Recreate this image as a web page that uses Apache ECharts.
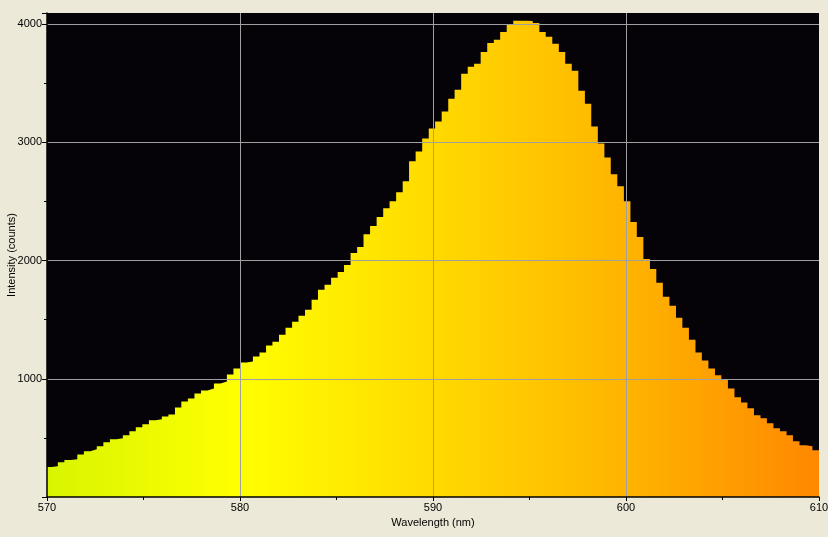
<!DOCTYPE html>
<html>
<head>
<meta charset="utf-8">
<script src="https://cdn.jsdelivr.net/npm/echarts@6/dist/echarts.min.js"></script>
<style>
html,body{margin:0;padding:0;background:#ECE9D8;}
#chart{width:828px;height:537px;}
</style>
</head>
<body>
<div id="chart"></div>
<script>
// Bin edges (nm) of the spectrometer pixels; 120 edges for 119 bins
var binEdges = [
569.89,570.22,570.56,570.90,571.23,571.57,571.91,572.25,572.58,572.92,
573.26,573.59,573.93,574.27,574.60,574.94,575.28,575.62,575.95,576.29,
576.63,576.96,577.30,577.64,577.98,578.31,578.65,578.99,579.32,579.66,
580.00,580.34,580.67,581.01,581.35,581.68,582.02,582.36,582.70,583.03,
583.37,583.71,584.04,584.38,584.72,585.06,585.39,585.73,586.07,586.40,
586.74,587.08,587.42,587.75,588.09,588.43,588.76,589.10,589.44,589.78,
590.11,590.45,590.79,591.12,591.46,591.80,592.13,592.47,592.81,593.15,
593.48,593.82,594.16,594.49,594.83,595.17,595.51,595.84,596.18,596.52,
596.85,597.19,597.53,597.87,598.20,598.54,598.88,599.21,599.55,599.89,
600.23,600.56,600.90,601.24,601.57,601.91,602.25,602.59,602.92,603.26,
603.60,603.93,604.27,604.61,604.94,605.28,605.62,605.96,606.29,606.63,
606.97,607.30,607.64,607.98,608.32,608.65,608.99,609.33,609.66,610.00
];
// Intensity (counts) per bin
var intensity = [
253,261,295,312,320,360,388,404,430,463,
489,497,522,556,590,615,649,657,682,699,
758,809,834,876,902,918,961,977,1036,1087,
1137,1146,1188,1222,1281,1314,1373,1432,1483,1534,
1584,1668,1753,1795,1854,1904,1963,2064,2115,2224,
2292,2368,2444,2503,2578,2671,2840,2924,3033,3118,
3177,3261,3370,3446,3581,3640,3665,3766,3842,3868,
3935,3994,4030,4030,4028,4011,3935,3893,3834,3766,
3665,3606,3438,3328,3134,2991,2873,2730,2629,2503,
2326,2199,2014,1930,1812,1694,1618,1517,1432,1331,
1222,1154,1087,1030,994,918,843,800,750,691,
666,624,581,556,522,472,438,430,396
];
var xTicks = [570, 580, 590, 600, 610];
var yTicks = [1000, 2000, 3000, 4000];

var data = binEdges.map(function(e, i){
  return [e, intensity[Math.min(i, intensity.length - 1)]];
});

var chart = echarts.init(document.getElementById('chart'), null, {renderer:'canvas'});
var font = 'Liberation Sans';
chart.setOption({
  backgroundColor: '#ECE9D8',
  animation: false,
  grid: {left:47, right:9, top:13, bottom:40, containLabel:false, outerBoundsMode:'none',
         show:true, backgroundColor:'#050307', borderWidth:0},
  xAxis: {
    type:'value', min:570, max:610, interval:10, z:5,
    name:'Wavelength (nm)', nameLocation:'middle', nameGap:20, nameMoveOverlap:false,
    nameTextStyle:{color:'#000', fontFamily:font, fontSize:11},
    axisLine:{show:true, onZero:false, lineStyle:{color:'#000', width:1.5}},
    axisTick:{show:true, length:4, lineStyle:{color:'#000'}},
    minorTick:{show:true, splitNumber:2, length:3, lineStyle:{color:'#000'}},
    axisLabel:{color:'#000', fontFamily:font, fontSize:11, margin:5,
      formatter:function(v){ return xTicks.indexOf(v) >= 0 ? String(v) : ''; }},
    splitLine:{show:true, showMinLine:false, showMaxLine:false, lineStyle:{color:'#A0A0A0', width:1}}
  },
  yAxis: {
    type:'value', min:0, max:4095, interval:1000, z:5,
    name:'Intensity (counts)', nameLocation:'middle', nameGap:30, nameMoveOverlap:false,
    nameTextStyle:{color:'#000', fontFamily:font, fontSize:11},
    axisLine:{show:true, onZero:false, lineStyle:{color:'#000', width:1.5}},
    axisTick:{show:true, length:5, lineStyle:{color:'#000'}},
    minorTick:{show:true, splitNumber:2, length:3, lineStyle:{color:'#000'}},
    axisLabel:{color:'#000', fontFamily:font, fontSize:11, margin:5, showMinLabel:false, showMaxLabel:false,
      formatter:function(v){ return yTicks.indexOf(v) >= 0 ? String(v) : ''; }},
    splitLine:{show:true, showMinLine:false, showMaxLine:false, lineStyle:{color:'#A0A0A0', width:1}}
  },
  series: [{
    type:'line', step:'end', data:data, symbol:'none', silent:true, clip:true,
    lineStyle:{width:0, opacity:0},
    areaStyle:{opacity:1, color:{type:'linear', x:47, y:0, x2:819, y2:0, global:true,
      colorStops:[
        {offset:0, color:'#D8F500'},
        {offset:0.25, color:'#FFFF00'},
        {offset:0.5, color:'#FFDA00'},
        {offset:0.75, color:'#FFB400'},
        {offset:1, color:'#FF8800'}
      ]}}
  }]
});
</script>
</body>
</html>
